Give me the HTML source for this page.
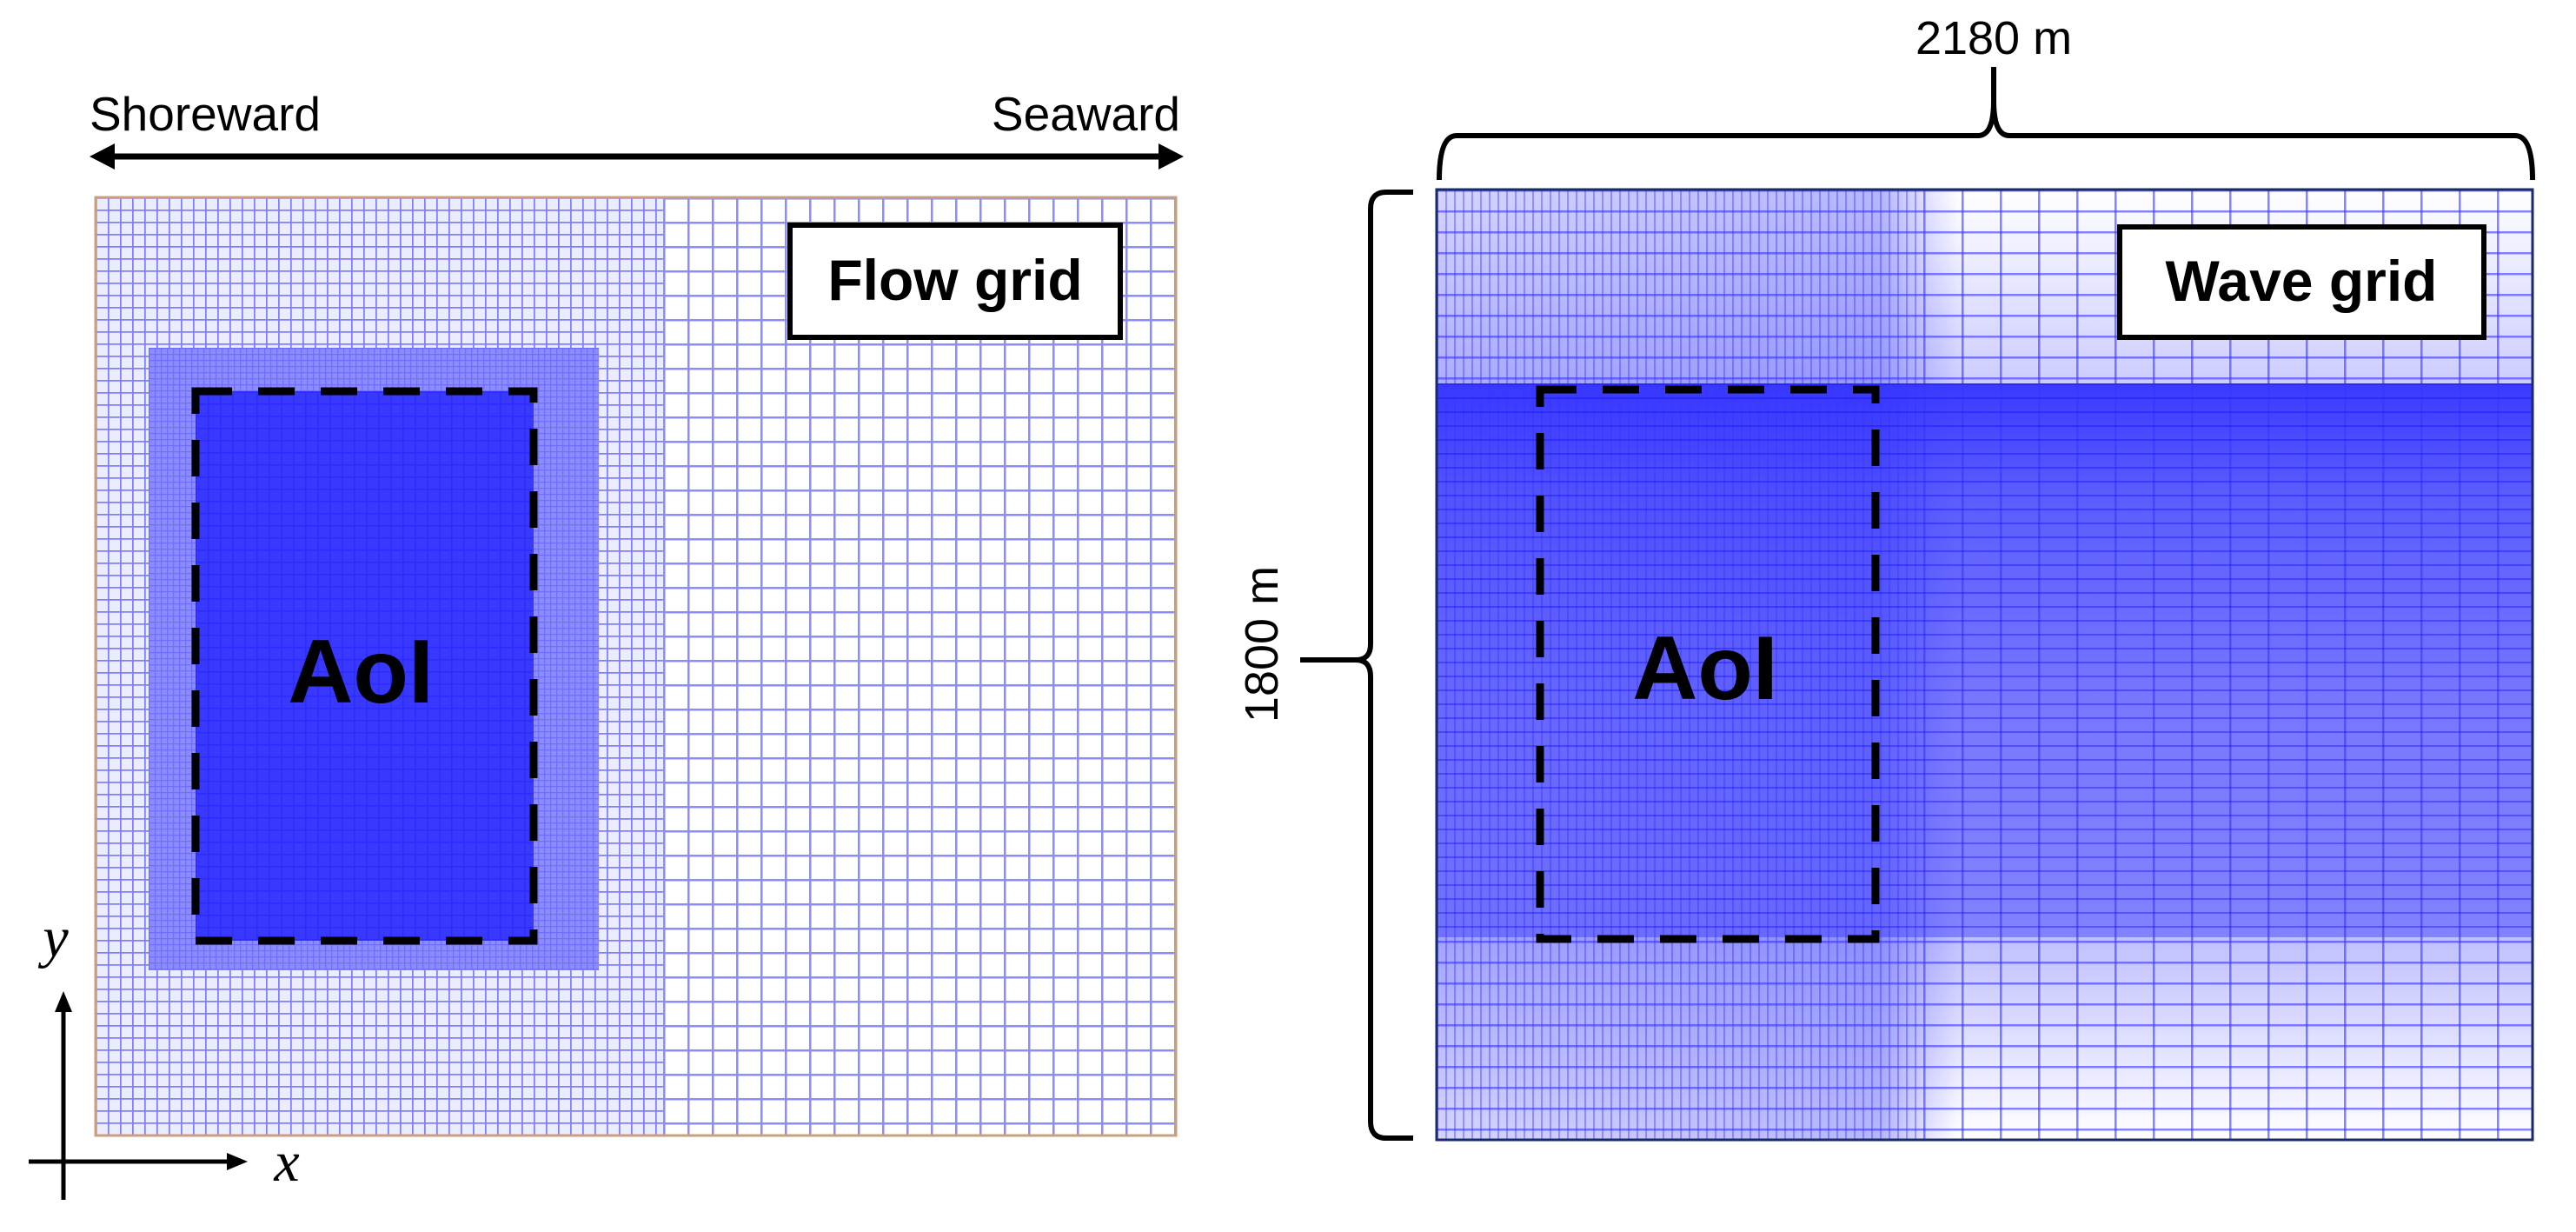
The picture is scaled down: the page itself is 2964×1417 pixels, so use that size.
<!DOCTYPE html>
<html><head><meta charset="utf-8"><style>
html,body{margin:0;padding:0;background:#fff;}
svg{display:block;}
</style></head><body>
<svg width="2964" height="1417" viewBox="0 0 2964 1417" xmlns="http://www.w3.org/2000/svg">
<defs>
  <pattern id="fine" x="110" y="227" width="14" height="14" patternUnits="userSpaceOnUse">
    <path d="M0 0.5H14M0.5 0V14" stroke="#3f3fff" stroke-opacity="0.65" stroke-width="2.5" fill="none"/>
  </pattern>
  <pattern id="coarse" x="763" y="227" width="28" height="28" patternUnits="userSpaceOnUse">
    <path d="M0 1H28M1 0V28" stroke="#4040ff" stroke-opacity="0.6" stroke-width="3" fill="none"/>
  </pattern>
  <pattern id="mid" x="171" y="400" width="7" height="7" patternUnits="userSpaceOnUse">
    <path d="M0 0.5H7M0.5 0V7" stroke="#5050ff" stroke-opacity="0.5" stroke-width="1.5" fill="none"/>
  </pattern>
  <pattern id="aoi" x="225" y="450" width="14" height="14" patternUnits="userSpaceOnUse">
    <path d="M0 0.5H14M0.5 0V14" stroke="#2020ff" stroke-opacity="0.5" stroke-width="2" fill="none"/>
  </pattern>
  <pattern id="wh" x="0" y="218" width="1" height="24" patternUnits="userSpaceOnUse">
    <rect x="0" y="0" width="1" height="2.5" fill="#3535ff" fill-opacity="0.6"/>
  </pattern>
  <pattern id="whd" x="0" y="441" width="1" height="16" patternUnits="userSpaceOnUse">
    <rect x="0" y="0" width="1" height="2" fill="#1010ff" fill-opacity="0.4"/>
  </pattern>
  <pattern id="wv" x="2213" y="0" width="44" height="1" patternUnits="userSpaceOnUse">
    <rect x="0" y="0" width="2.5" height="1" fill="#3535ff" fill-opacity="0.6"/>
  </pattern>
  <pattern id="wvd" x="1653" y="0" width="10" height="1" patternUnits="userSpaceOnUse">
    <rect x="0" y="0" width="2" height="1" fill="#3535ff" fill-opacity="0.4"/>
  </pattern>
  <linearGradient id="midband" x1="0" y1="0" x2="0" y2="1">
    <stop offset="0" stop-color="#3a3aff"/>
    <stop offset="0.2" stop-color="#5c5cff"/>
    <stop offset="0.6" stop-color="#7878ff"/>
    <stop offset="1" stop-color="#8282ff"/>
  </linearGradient>
  <linearGradient id="leftband" x1="0" y1="0" x2="1" y2="0">
    <stop offset="0" stop-color="#3030ff" stop-opacity="0.2"/>
    <stop offset="0.85" stop-color="#3030ff" stop-opacity="0.35"/>
    <stop offset="1" stop-color="#3030ff" stop-opacity="0"/>
  </linearGradient>
  <linearGradient id="topfade" x1="0" y1="0" x2="0" y2="1">
    <stop offset="0" stop-color="#8080ff" stop-opacity="0.0"/>
    <stop offset="1" stop-color="#8080ff" stop-opacity="0.4"/>
  </linearGradient>
  <linearGradient id="botfade" x1="0" y1="0" x2="0" y2="1">
    <stop offset="0" stop-color="#8080ff" stop-opacity="0.5"/>
    <stop offset="1" stop-color="#8080ff" stop-opacity="0"/>
  </linearGradient>
</defs>

<!-- ===== LEFT: Flow grid ===== -->
<text x="103" y="150" font-family="Liberation Sans, sans-serif" font-size="55" fill="#000">Shoreward</text>
<text x="1358" y="150" text-anchor="end" font-family="Liberation Sans, sans-serif" font-size="55" fill="#000">Seaward</text>
<line x1="125" y1="180" x2="1338" y2="180" stroke="#000" stroke-width="7"/>
<polygon points="103,180 132,165 132,195" fill="#000"/>
<polygon points="1362,180 1333,165 1333,195" fill="#000"/>

<rect x="110" y="227" width="1243" height="1079" fill="#fff"/>
<rect x="110" y="227" width="653" height="1079" fill="url(#fine)"/>
<rect x="110" y="227" width="653" height="1079" fill="#6060ff" fill-opacity="0.12"/>
<rect x="763" y="227" width="590" height="1079" fill="url(#coarse)"/>
<rect x="171" y="400" width="518" height="716" fill="#8c8cff"/>
<rect x="171" y="400" width="518" height="716" fill="url(#mid)"/>
<rect x="225" y="450" width="389" height="632" fill="#3838ff"/>
<rect x="225" y="450" width="389" height="632" fill="url(#aoi)"/>
<rect x="110" y="227" width="1243" height="1079" fill="none" stroke="#c8a07e" stroke-width="3"/>
<rect x="225" y="450" width="389" height="632" fill="none" stroke="#000" stroke-width="9" stroke-dasharray="42,30"/>
<text x="415" y="808" text-anchor="middle" font-family="Liberation Sans, sans-serif" font-weight="bold" font-size="104" fill="#000">AoI</text>
<rect x="909" y="259" width="380" height="129" fill="#fff" stroke="#000" stroke-width="6"/>
<text x="1099" y="345" text-anchor="middle" font-family="Liberation Sans, sans-serif" font-weight="bold" font-size="66" fill="#000">Flow grid</text>

<!-- axes -->
<line x1="73" y1="1155" x2="73" y2="1380" stroke="#000" stroke-width="5"/>
<polygon points="73,1140 63,1164 83,1164" fill="#000"/>
<line x1="33" y1="1336" x2="270" y2="1336" stroke="#000" stroke-width="5"/>
<polygon points="285,1336 261,1326 261,1346" fill="#000"/>
<text x="64" y="1100" text-anchor="middle" font-family="Liberation Serif, serif" font-style="italic" font-size="66" fill="#000">y</text>
<text x="330" y="1358" text-anchor="middle" font-family="Liberation Serif, serif" font-style="italic" font-size="66" fill="#000">x</text>

<!-- ===== RIGHT: Wave grid ===== -->
<rect x="1653" y="218" width="1261" height="1093" fill="#fff"/>
<rect x="1653" y="218" width="1261" height="223" fill="url(#topfade)"/>
<rect x="1653" y="441" width="1261" height="637" fill="url(#midband)"/>
<rect x="1653" y="1078" width="1261" height="233" fill="url(#botfade)"/>
<rect x="1653" y="218" width="600" height="1093" fill="url(#leftband)"/>
<rect x="1653" y="218" width="560" height="1093" fill="url(#wvd)"/>
<rect x="2213" y="218" width="701" height="1093" fill="url(#wv)"/>
<rect x="1653" y="218" width="1261" height="223" fill="url(#wh)"/>
<rect x="1653" y="441" width="1261" height="637" fill="url(#whd)"/>
<rect x="1653" y="1078" width="1261" height="233" fill="url(#wh)"/>
<rect x="1653" y="218" width="1261" height="1093" fill="none" stroke="#1a2a6a" stroke-width="3"/>

<rect x="1772" y="448" width="386" height="632" fill="none" stroke="#000" stroke-width="9" stroke-dasharray="42,30"/>
<text x="1962" y="804" text-anchor="middle" font-family="Liberation Sans, sans-serif" font-weight="bold" font-size="104" fill="#000">AoI</text>
<rect x="2439" y="261" width="419" height="127" fill="#fff" stroke="#000" stroke-width="6"/>
<text x="2648" y="346" text-anchor="middle" font-family="Liberation Sans, sans-serif" font-weight="bold" font-size="66" fill="#000">Wave grid</text>

<!-- top brace -->
<path d="M1656 207 Q1656 156 1676 156 L2276 156 Q2294 156 2294 116 L2294 77 M2294 116 Q2294 156 2312 156 L2894 156 Q2914 156 2914 207" fill="none" stroke="#000" stroke-width="6"/>
<text x="2294" y="62" text-anchor="middle" font-family="Liberation Sans, sans-serif" font-size="54" fill="#000">2180 m</text>

<!-- left brace -->
<path d="M1626 221 L1595 221 Q1577 221 1577 240 L1577 741 Q1577 759 1560 759 L1496 759 M1560 759 Q1577 759 1577 778 L1577 1290 Q1577 1309 1595 1309 L1626 1309" fill="none" stroke="#000" stroke-width="6"/>
<text x="0" y="0" transform="translate(1470,741) rotate(-90)" text-anchor="middle" font-family="Liberation Sans, sans-serif" font-size="54" fill="#000">1800 m</text>
</svg>
</body></html>
